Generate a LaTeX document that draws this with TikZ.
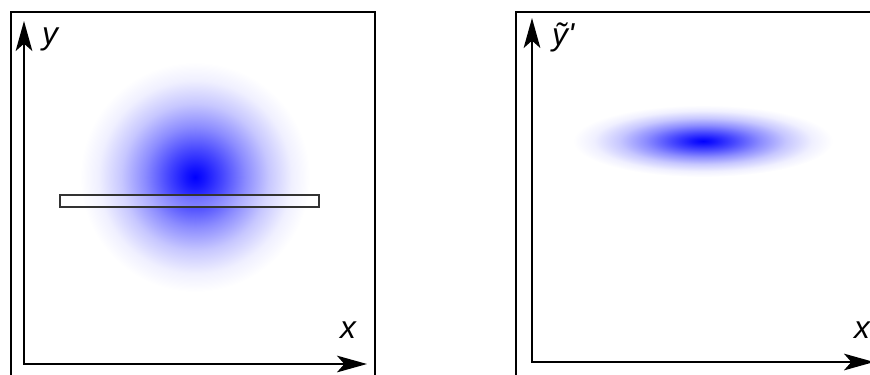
\documentclass[tikz,border=0pt]{standalone}
\usepackage{fontspec}
\setmainfont{Liberation Sans}[Ligatures=TeXOff]
\usetikzlibrary{arrows.meta}
\definecolor{ink}{HTML}{000000}
\definecolor{beam}{HTML}{0000FF}
\pgfdeclareradialshading{spot}{\pgfpoint{0bp}{0bp}}{%
  color(0bp)=(beam); color(2bp)=(beam!92); color(6bp)=(beam!72);
  color(11bp)=(beam!45); color(16bp)=(beam!22); color(21bp)=(beam!6);
  color(25bp)=(white); color(50bp)=(white)}

\begin{document}
\begin{tikzpicture}[x=0.3mm,y=-0.3mm,font=\fontsize{27}{30}\selectfont\itshape,
  >={Stealth[length=9mm,width=5mm,inset=2.2mm]},
  frame/.style={draw=ink,line width=1pt},
  axis/.style={draw=ink,line width=1.6pt,<->},
  lbl/.style={inner sep=0pt,text=ink}]
  \clip (0,0) rectangle (870,374);

  % left panel: round spot with a slit across it
  \draw[frame] (11,12) rectangle (375,400);
  \shade[shading=spot] (195,177) circle (115);
  \draw[ink!80,line width=0.9pt,fill=white,fill opacity=0.3] (60,195) rectangle (319,207);
  \coordinate (orgA) at (24,364);
  \coordinate (yA) at (24,21);
  \coordinate (xA) at (367,364);
  \draw[axis] (yA) -- (orgA) -- (xA);
  \node[lbl,anchor=base west] (labyA) at (42,44) {y};
  \node[lbl,anchor=base] (labxA) at (348,338) {x};

  % right panel: flattened spot
  \draw[frame] (516,12) rectangle (900,400);
  \shade[shading=spot] (703,141) ellipse (130 and 36);
  \coordinate (orgB) at (532,362);
  \coordinate (yB) at (532,18);
  \coordinate (xB) at (874,362);
  \draw[axis] (yB) -- (orgB) -- (xB);
  \node[lbl,anchor=base west] (labyB) at (552,45) {ỹ'};
  \node[lbl,anchor=base] (labxB) at (862,338) {x};
\end{tikzpicture}
\end{document}
